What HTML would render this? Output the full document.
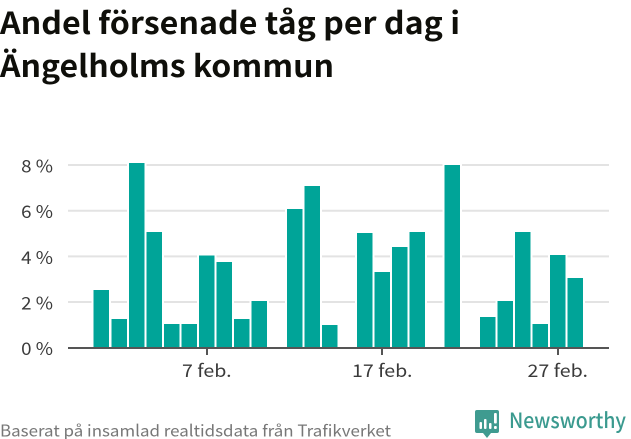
<!DOCTYPE html>
<html lang="sv">
<head>
<meta charset="utf-8">
<title>Andel försenade tåg per dag i Ängelholms kommun</title>
<style>
html,body{margin:0;padding:0;background:#fff;width:631px;height:439px;overflow:hidden}
svg{display:block}
text{font-family:"Noto Sans CJK JP","Liberation Sans",sans-serif}
.tick{font-size:17.5px;fill:#3a3a3a}
</style>
</head>
<body>
<svg id="chart" width="631" height="439" viewBox="0 0 631 439" xmlns="http://www.w3.org/2000/svg">
  <text x="0" y="34" font-size="30.5" font-weight="700" fill="#0f0f0a" textLength="460" lengthAdjust="spacingAndGlyphs">Andel försenade tåg per dag i</text>
  <text x="0" y="77" font-size="30.5" font-weight="700" fill="#0f0f0a" textLength="334" lengthAdjust="spacingAndGlyphs">Ängelholms kommun</text>
  <g id="grid"></g>
  <g id="bars"></g>
  <g id="axes"></g>
  <text x="0" y="436.5" font-size="16" fill="#777" textLength="391" lengthAdjust="spacingAndGlyphs">Baserat på insamlad realtidsdata från Trafikverket</text>
  <g>
    <path d="M477 410H497Q499 410 499 412V431Q499 433 497 433H491L487 438L483 433H477Q475 433 475 431V412Q475 410 477 410Z" fill="#3f9b90"/>
    <rect x="479.5" y="422" width="2.5" height="7" rx="1" fill="#fff"/>
    <rect x="484" y="419" width="2.5" height="10" rx="1" fill="#fff"/>
    <rect x="489" y="423" width="2.5" height="6" rx="1" fill="#fff"/>
    <rect x="494" y="413" width="2.8" height="10.5" rx="1" fill="#fff"/>
    <rect x="494" y="426" width="2.8" height="3" rx="1" fill="#fff"/>
    <text x="509" y="428" font-size="21" font-weight="500" fill="#3b9a8f" textLength="117" lengthAdjust="spacingAndGlyphs">Newsworthy</text>
  </g>
</svg>
<script>
const days = [1,2,3,4,5,6,7,8,9,10,11,12,13,14,15,16,17,18,19,20,21,22,23,24,25,26,27,28];
const delayedShare = [2.53,1.26,8.1,5.07,1.04,1.04,4.03,3.76,1.26,2.05,null,6.08,7.09,1.0,null,5.03,3.32,4.41,5.07,null,8.0,null,1.35,2.05,5.07,1.04,4.06,3.05];
const yTicks = [0,2,4,6,8];
const xTickDays = [7,17,27];
const xTickLabels = ["7 feb.","17 feb.","27 feb."];

const NS = "http://www.w3.org/2000/svg";
const plotLeft = 68, plotRight = 609;
const yScale = v => 347.7 - v * 22.83;
const xCenter = d => 101.45 + (d - 1) * 17.55;
const barWidth = 15.5;

function make(tag, attrs, parent, text) {
  const el = document.createElementNS(NS, tag);
  for (const k in attrs) el.setAttribute(k, attrs[k]);
  if (text !== undefined) el.textContent = text;
  parent.appendChild(el);
  return el;
}
const grid = document.getElementById("grid");
const bars = document.getElementById("bars");
const axes = document.getElementById("axes");

yTicks.forEach(t => {
  if (t !== 0) {
    const line = make("line", {x1: plotLeft, x2: plotRight, y1: yScale(t), y2: yScale(t), stroke: "#e3e3e3", "stroke-width": 2}, grid);
    
    
  }
  const label = make("text", {transform: "translate(53," + (yScale(t) + 7.5) + ") scale(1.07,1)", "text-anchor": "end", class: "tick"}, axes, t + " %");
  
  
});

days.forEach((d, i) => {
  const v = delayedShare[i];
  if (v === null || v === undefined) return;
  const y = yScale(v);
  const bar = make("rect", {
    x: xCenter(d) - barWidth / 2, y: y, width: barWidth, height: yScale(0) - y,
    fill: "#00a498", stroke: "none", "shape-rendering": "crispEdges"
  }, bars);
  
  
  const halo = make("rect", {
    x: xCenter(d) - barWidth / 2 - 2, y: y - 2, width: barWidth + 4, height: yScale(0) - y + 2,
    fill: "#fff", "shape-rendering": "crispEdges"
  }, grid);
  
  
});

const axisY = Math.round(yScale(0));
const baseline = make("line", {x1: plotLeft, x2: plotRight, y1: axisY, y2: axisY, stroke: "#555", "stroke-width": 2}, axes);



xTickDays.forEach((d, i) => {
  const x = xCenter(d);
  const snapped = Math.round(x);
  const tick = make("line", {x1: snapped, x2: snapped, y1: axisY, y2: axisY + 7, stroke: "#555", "stroke-width": 2}, axes);
  
  
  const label = make("text", {transform: "translate(" + x + ",377) scale(1.12,1)", "text-anchor": "middle", class: "tick"}, axes, xTickLabels[i]);
  
  
});
</script>
</body>
</html>
